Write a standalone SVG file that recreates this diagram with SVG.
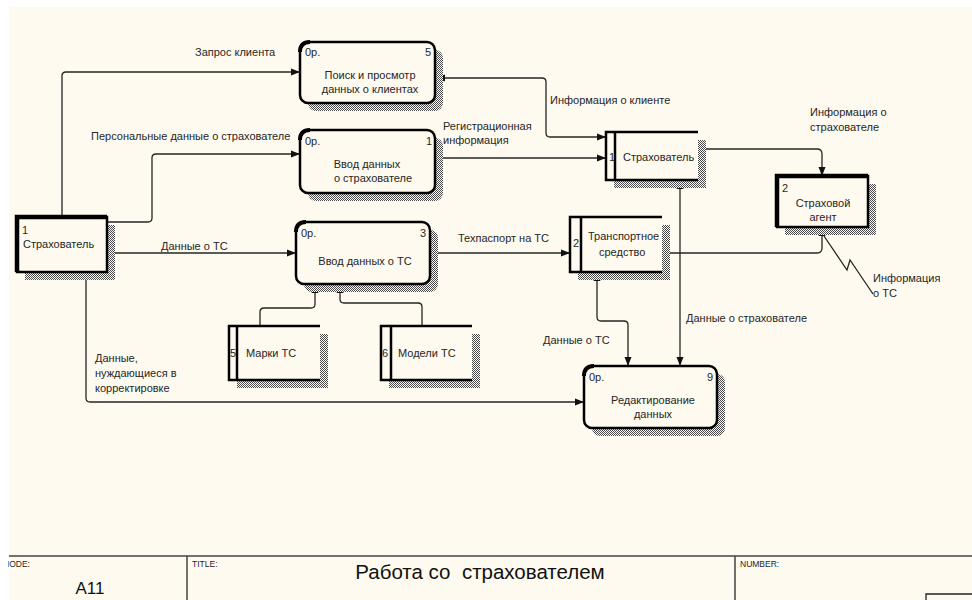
<svg xmlns="http://www.w3.org/2000/svg" width="972" height="600" viewBox="0 0 972 600">
  <defs>
    <pattern id="hatch" width="2" height="2" patternUnits="userSpaceOnUse">
      <rect width="2" height="2" fill="#fffaef"/>
      <rect width="1" height="1" fill="#4a4a4a"/>
      <rect x="1" y="1" width="1" height="1" fill="#4a4a4a"/>
    </pattern>
    <style>
      text { font-family: "Liberation Sans", Arial, sans-serif; font-size: 11px; fill: #262626; }
      .c { text-anchor: middle; }
      .box { fill: #fffaef; stroke: #000; stroke-width: 2.5; }
      .sh { fill: url(#hatch); }
      .edge { fill: none; stroke: #000; stroke-width: 2.5; }
      .thick { fill: none; stroke: #000; stroke-width: 4.5; }
      .corner { fill: none; stroke: #000; stroke-width: 4; }
      .ln { fill: none; stroke: #262626; stroke-width: 1.3; }
      .ah { fill: #111; stroke: none; }
      .frame { fill: none; stroke: #444; stroke-width: 1.5; }
      .small { font-size: 8.5px; }
      .big { font-size: 20.5px; fill: #111; white-space: pre; }
    </style>
  </defs>

  <!-- sheet -->
  <rect x="0" y="0" width="972" height="600" fill="#ffffff"/>
  <rect x="9" y="7" width="963" height="593" fill="#fffaef"/>

  <!-- connectors -->
  <g id="connectors">
    <path class="ln" d="M62,217 V76 Q62,72 66,72 H300"/>
    <path class="ah" d="M300,72 l-9,-3.5 v7 z"/>
    <path class="ln" d="M107,222 H148 Q152,222 152,218 V158 Q152,154 156,154 H300"/>
    <path class="ah" d="M300,154 l-9,-3.5 v7 z"/>
    <path class="ln" d="M107,253 H296"/>
    <path class="ah" d="M296,253 l-9,-3.5 v7 z"/>
    <path class="ln" d="M86,272 V398 Q86,402 90,402 H584"/>
    <path class="ah" d="M584,402 l-9,-3.5 v7 z"/>
    <path class="ln" d="M435,158 H606"/>
    <path class="ah" d="M606,158 l-9,-3.5 v7 z"/>
    <path class="ln" d="M436,78 H542 Q546,78 546,82 V133 Q546,137 550,137 H606"/>
    <path class="ah" d="M436,78 l9,-3.5 v7 z"/>
    <path class="ah" d="M606,137 l-9,-3.5 v7 z"/>
    <path class="ln" d="M700,149 H817 Q822,149 822,154 V176"/>
    <path class="ah" d="M822,176 l-3.5,-9 h7 z"/>
    <path class="ln" d="M430,253 H570"/>
    <path class="ah" d="M570,253 l-9,-3.5 v7 z"/>
    <path class="ln" d="M662,253 H817 Q822,253 822,248 V227"/>
    <path class="ah" d="M822,227 l-3.5,9 h7 z"/>
    <path class="ln" d="M824,236 L847,270 L850,260 L873,294"/>
    <path class="ln" d="M260,326 V312 Q260,308 264,308 H311 Q315,308 315,304 V284"/>
    <path class="ah" d="M315,284 l-3.5,9 h7 z"/>
    <path class="ln" d="M422,326 V307 Q422,303 418,303 H344 Q340,303 340,299 V284"/>
    <path class="ah" d="M340,284 l-3.5,9 h7 z"/>
    <path class="ln" d="M597,272 V317 Q597,321 601,321 H624 Q628,321 628,325 V366"/>
    <path class="ah" d="M597,272 l-3.5,9 h7 z"/>
    <path class="ah" d="M628,366 l-3.5,-9 h7 z"/>
    <path class="ln" d="M680,180 V366"/>
    <path class="ah" d="M680,180 l-3.5,9 h7 z"/>
    <path class="ah" d="M680,366 l-3.5,-9 h7 z"/>

    <text x="195" y="56">Запрос клиента</text>
    <text x="91" y="140">Персональные данные о страхователе</text>
    <text x="161" y="250">Данные о ТС</text>
    <text x="95" y="362">Данные,</text>
    <text x="95" y="377">нуждающиеся в</text>
    <text x="95" y="392">корректировке</text>
    <text x="443" y="130">Регистрационная</text>
    <text x="443" y="144">информация</text>
    <text x="550" y="104">Информация о клиенте</text>
    <text x="810" y="116">Информация о</text>
    <text x="810" y="131">страхователе</text>
    <text x="458" y="242">Техпаспорт на ТС</text>
    <text x="873" y="282">Информация</text>
    <text x="873" y="297">о ТС</text>
    <text x="543" y="344">Данные о ТС</text>
    <text x="686" y="322">Данные о страхователе</text>
  </g>

  <!-- external entity 1 -->
  <g id="entity-1">
    <rect class="sh" x="25" y="225" width="90" height="55"/>
    <rect class="box" x="17" y="217" width="90" height="55"/>
    <path class="thick" d="M17,272 V217 H107"/>
    <text x="22" y="234">1</text>
    <text x="23" y="248">Страхователь</text>
  </g>

  <!-- external entity 2 -->
  <g id="entity-2">
    <rect class="sh" x="785" y="184" width="91" height="51"/>
    <rect class="box" x="777" y="176" width="91" height="51"/>
    <path class="thick" d="M777,227 V176 H868"/>
    <text x="782" y="192">2</text>
    <text class="c" x="823" y="207">Страховой</text>
    <text class="c" x="823" y="221">агент</text>
  </g>

  <!-- process 5 -->
  <g id="process-5">
    <rect class="sh" x="308" y="50" width="135" height="61" rx="8"/>
    <rect class="box" x="300" y="42" width="135" height="61" rx="8"/>
    <path class="corner" d="M300,52 Q300,42 310,42"/>
    <text x="305" y="56">0р.</text>
    <text x="425" y="56">5</text>
    <text class="c" x="370" y="79">Поиск и просмотр</text>
    <text class="c" x="370" y="93">данных о клиентах</text>
  </g>

  <!-- process 1 -->
  <g id="process-1">
    <rect class="sh" x="308" y="138" width="135" height="63" rx="8"/>
    <rect class="box" x="300" y="130" width="135" height="63" rx="8"/>
    <path class="corner" d="M300,140 Q300,130 310,130"/>
    <text x="305" y="145">0р.</text>
    <text x="426" y="145">1</text>
    <text class="c" x="367" y="168">Ввод данных</text>
    <text class="c" x="373" y="182">о страхователе</text>
  </g>

  <!-- process 3 -->
  <g id="process-3">
    <rect class="sh" x="304" y="230" width="134" height="62" rx="8"/>
    <rect class="box" x="296" y="222" width="134" height="62" rx="8"/>
    <path class="corner" d="M296,232 Q296,222 306,222"/>
    <text x="301" y="237">0р.</text>
    <text x="420" y="237">3</text>
    <text class="c" x="365" y="265">Ввод данных о ТС</text>
  </g>

  <!-- process 9 -->
  <g id="process-9">
    <rect class="sh" x="592" y="374" width="133" height="62" rx="8"/>
    <rect class="box" x="584" y="366" width="133" height="62" rx="8"/>
    <path class="corner" d="M584,376 Q584,366 594,366"/>
    <text x="589" y="381">0р.</text>
    <text x="707" y="381">9</text>
    <text class="c" x="653" y="404">Редактирование</text>
    <text class="c" x="653" y="418">данных</text>
  </g>

  <!-- data store 1 -->
  <g id="store-1">
    <rect class="sh" x="614" y="140" width="92" height="48"/>
    <rect x="606" y="132" width="92" height="48" fill="#fffaef"/>
    <path class="edge" d="M698,132 H606 V180 H698 M615,132 V180"/>
    <text x="609" y="161">1</text>
    <text x="623" y="161">Страхователь</text>
  </g>

  <!-- data store 2 -->
  <g id="store-2">
    <rect class="sh" x="578" y="225" width="92" height="55"/>
    <rect x="570" y="217" width="92" height="55" fill="#fffaef"/>
    <path class="edge" d="M662,217 H570 V272 H662 M581,217 V272"/>
    <text x="573" y="247">2</text>
    <text x="588" y="240">Транспортное</text>
    <text x="599" y="256">средство</text>
  </g>

  <!-- data store 5 -->
  <g id="store-5">
    <rect class="sh" x="237" y="334" width="91" height="54"/>
    <rect x="229" y="326" width="91" height="54" fill="#fffaef"/>
    <path class="edge" d="M320,326 H229 V380 H320 M237,326 V380"/>
    <text x="230" y="357">5</text>
    <text x="246" y="357">Марки ТС</text>
  </g>

  <!-- data store 6 -->
  <g id="store-6">
    <rect class="sh" x="389" y="334" width="91" height="54"/>
    <rect x="381" y="326" width="91" height="54" fill="#fffaef"/>
    <path class="edge" d="M472,326 H381 V380 H472 M391,326 V380"/>
    <text x="382" y="357">6</text>
    <text x="398" y="357">Модели ТС</text>
  </g>

  <!-- title block -->
  <g id="title-block">
    <path class="frame" d="M9,556 H972 M187,556 V600 M735,556 V600"/>
    <path d="M926,600 V594 H972" fill="none" stroke="#222" stroke-width="1.3"/>
    <text class="small" x="3" y="567">NODE:</text>
    <text class="small" x="192" y="567">TITLE:</text>
    <text class="small" x="740" y="567">NUMBER:</text>
    <text class="c big" x="90" y="594" style="font-size:17px">A11</text>
    <text class="c big" x="480" y="579" xml:space="preserve">Работа со  страхователем</text>
  </g>
  <rect x="0" y="0" width="8" height="600" fill="#ffffff"/>
</svg>
